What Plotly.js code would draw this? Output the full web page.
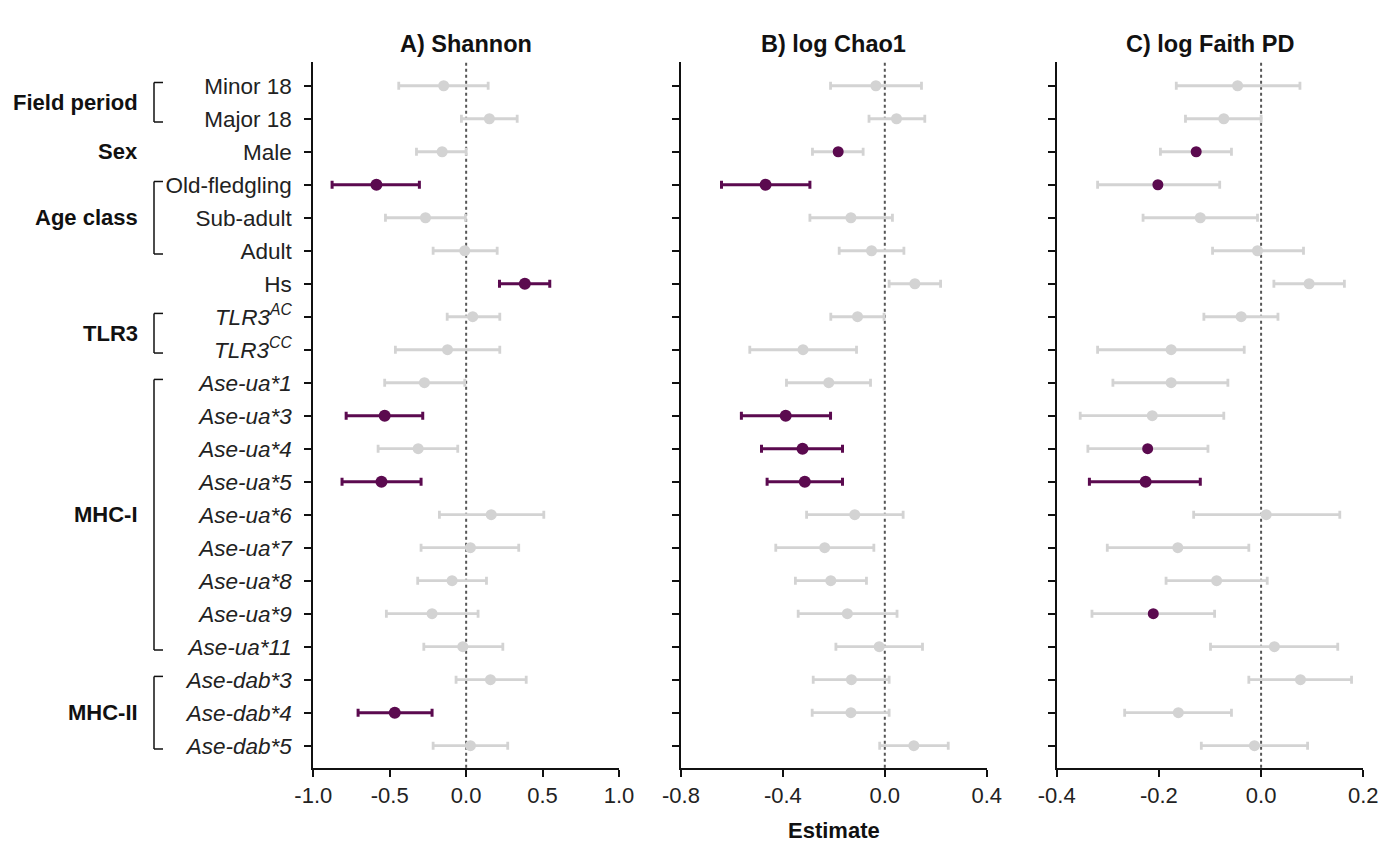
<!DOCTYPE html>
<html>
<head>
<meta charset="utf-8">
<script src="https://cdn.plot.ly/plotly-3.0.1.min.js"></script>
<style>html,body{margin:0;padding:0;background:#fff;}#chart{width:1392px;height:846px;}</style>
</head>
<body>
<div id="chart"></div>
<script>
// Row labels (top to bottom)
const rowLabels = ["Minor 18","Major 18","Male","Old-fledgling","Sub-adult","Adult","Hs",
  "<i>TLR3<sup>AC</sup></i>","<i>TLR3<sup>CC</sup></i>",
  "<i>Ase-ua*1</i>","<i>Ase-ua*3</i>","<i>Ase-ua*4</i>","<i>Ase-ua*5</i>","<i>Ase-ua*6</i>",
  "<i>Ase-ua*7</i>","<i>Ase-ua*8</i>","<i>Ase-ua*9</i>","<i>Ase-ua*11</i>",
  "<i>Ase-dab*3</i>","<i>Ase-dab*4</i>","<i>Ase-dab*5</i>"];

// Group labels and bracket extents (row indices)
const groupNames = ["Field period","Sex","Age class","TLR3","MHC-I","MHC-II"];
const groupFirst = [0,2,3,7,9,18];
const groupLast  = [1,2,5,8,17,20];
const groupBracket = [true,false,true,true,true,true];

// A) Shannon
const shannonEst = [-0.147,0.152,-0.157,-0.587,-0.266,-0.009,0.384,0.043,-0.122,-0.273,-0.533,-0.314,-0.554,0.164,0.028,-0.092,-0.223,-0.022,0.159,-0.467,0.028];
const shannonLo  = [-0.441,-0.031,-0.325,-0.877,-0.528,-0.216,0.218,-0.124,-0.463,-0.533,-0.785,-0.576,-0.812,-0.175,-0.295,-0.317,-0.522,-0.277,-0.066,-0.707,-0.216];
const shannonHi  = [0.144,0.334,0.0,-0.306,-0.005,0.203,0.547,0.220,0.220,-0.009,-0.284,-0.055,-0.295,0.508,0.344,0.133,0.078,0.240,0.393,-0.223,0.272];
const shannonSig = [0,0,0,2,0,0,2,0,0,0,2,0,2,0,0,0,0,0,0,2,0];

// B) log Chao1
const chaoEst = [-0.035,0.046,-0.183,-0.468,-0.133,-0.052,0.118,-0.107,-0.321,-0.220,-0.389,-0.323,-0.314,-0.118,-0.236,-0.212,-0.147,-0.022,-0.131,-0.133,0.114];
const chaoLo  = [-0.213,-0.062,-0.284,-0.641,-0.294,-0.179,0.017,-0.212,-0.530,-0.386,-0.563,-0.484,-0.462,-0.307,-0.428,-0.351,-0.340,-0.192,-0.281,-0.285,-0.020];
const chaoHi  = [0.144,0.157,-0.085,-0.294,0.030,0.075,0.219,-0.003,-0.111,-0.056,-0.213,-0.166,-0.166,0.072,-0.043,-0.072,0.048,0.148,0.017,0.017,0.249];
const chaoSig = [0,0,1,2,0,0,0,0,0,0,2,2,2,0,0,0,0,0,0,0,0];

// C) log Faith PD
const faithEst = [-0.046,-0.073,-0.127,-0.202,-0.119,-0.007,0.094,-0.039,-0.176,-0.176,-0.213,-0.222,-0.226,0.010,-0.163,-0.087,-0.211,0.026,0.077,-0.162,-0.013];
const faithLo  = [-0.166,-0.148,-0.197,-0.320,-0.231,-0.095,0.025,-0.112,-0.320,-0.290,-0.354,-0.339,-0.336,-0.132,-0.301,-0.186,-0.331,-0.099,-0.024,-0.267,-0.117];
const faithHi  = [0.076,0.0,-0.058,-0.081,-0.007,0.083,0.163,0.033,-0.033,-0.065,-0.073,-0.104,-0.119,0.154,-0.024,0.012,-0.091,0.150,0.177,-0.058,0.091];
const faithSig = [0,0,1,1,0,0,0,0,0,0,0,1,2,0,0,0,1,0,0,0,0];

const panelTitles = ["A) Shannon","B) log Chao1","C) log Faith PD"];
const xRanges = [[-1,1],[-0.8,0.4],[-0.4,0.2]];
const xTickVals = [[-1,-0.5,0,0.5,1],[-0.8,-0.4,0,0.4],[-0.4,-0.2,0,0.2]];
const xTickText = [["-1.0","-0.5","0.0","0.5","1.0"],["-0.8","-0.4","0.0","0.4"],["-0.4","-0.2","0.0","0.2"]];
const xAxisTitle = "Estimate";

const PURPLE = "#5b0a4f";
const GREY = "#d3d3d3";
const FONT = "Liberation Sans, Arial, sans-serif";

const panels = [
  {est: shannonEst, lo: shannonLo, hi: shannonHi, sig: shannonSig},
  {est: chaoEst, lo: chaoLo, hi: chaoHi, sig: chaoSig},
  {est: faithEst, lo: faithLo, hi: faithHi, sig: faithSig}
];

const traces = [];
panels.forEach((p, k) => {
  const xa = k === 0 ? "x" : "x" + (k + 1);
  const ya = k === 0 ? "y" : "y" + (k + 1);
  const gi = [], pi = [];
  p.est.forEach((v, i) => { (p.sig[i] === 2 ? pi : gi).push(i); });
  traces.push({
    type: "scatter", mode: "markers", xaxis: xa, yaxis: ya, hoverinfo: "skip",
    x: gi.map(i => p.est[i]), y: gi,
    error_x: {type: "data", symmetric: false,
      array: gi.map(i => p.hi[i] - p.est[i]), arrayminus: gi.map(i => p.est[i] - p.lo[i]),
      color: GREY, thickness: 2.8, width: 4},
    marker: {size: 11, color: gi.map(i => p.sig[i] === 1 ? PURPLE : GREY)}
  });
  traces.push({
    type: "scatter", mode: "markers", xaxis: xa, yaxis: ya, hoverinfo: "skip",
    x: pi.map(i => p.est[i]), y: pi,
    error_x: {type: "data", symmetric: false,
      array: pi.map(i => p.hi[i] - p.est[i]), arrayminus: pi.map(i => p.est[i] - p.lo[i]),
      color: PURPLE, thickness: 3, width: 4},
    marker: {size: 12, color: PURPLE}
  });
});

const W = 1392, H = 846;
const xDomains = [[313.3/W, 619/W],[681/W, 986.7/W],[1056.7/W, 1363.3/W]];
const yDomain = [1 - 767.7/H, 1 - 62/H];
const nRows = rowLabels.length;
const yRange = [nRows - 1 + 0.667, -0.72];

const layout = {
  width: W, height: H, showlegend: false,
  paper_bgcolor: "#fff", plot_bgcolor: "#fff",
  margin: {l: 0, r: 0, t: 0, b: 0},
  font: {family: FONT, size: 22, color: "#111"},
  shapes: [], annotations: []
};

for (let k = 0; k < 3; k++) {
  const sx = k === 0 ? "" : String(k + 1);
  layout["xaxis" + sx] = {
    domain: xDomains[k], range: xRanges[k], anchor: "y" + sx,
    tickmode: "array", tickvals: xTickVals[k], ticktext: xTickText[k],
    showline: true, linecolor: "#111", linewidth: 2,
    ticks: "outside", ticklen: 7, tickwidth: 2, tickcolor: "#111",
    showgrid: false, zeroline: false,
    tickfont: {family: FONT, size: 22, color: "#222"}
  };
  layout["yaxis" + sx] = {
    domain: yDomain, range: yRange, anchor: "x" + sx,
    tickmode: "array", tickvals: rowLabels.map((_, i) => i),
    ticktext: rowLabels, showticklabels: k === 0, ticklabelstandoff: 8,
    showline: true, linecolor: "#111", linewidth: 2,
    ticks: "outside", ticklen: 7, tickwidth: 2, tickcolor: "#111",
    showgrid: false, zeroline: false,
    tickfont: {family: FONT, size: 22.5, color: "#222"}
  };
  layout.shapes.push({
    type: "line", xref: "x" + sx, yref: "y" + sx + " domain",
    x0: 0, x1: 0, y0: 0, y1: 1, layer: "below",
    line: {color: "#555", width: 2, dash: "dot"}
  });
  layout.annotations.push({
    text: "<b>" + panelTitles[k] + "</b>", showarrow: false,
    xref: "x" + sx + " domain", yref: "paper", x: 0.5, y: 1 - 44/H,
    xanchor: "center", yanchor: "middle",
    font: {family: FONT, size: 23.5, color: "#111"}
  });
}

layout.annotations.push({
  text: "<b>" + xAxisTitle + "</b>", showarrow: false, xref: "x2 domain", yref: "paper",
  x: 0.5, y: 1 - 830/H, xanchor: "center", yanchor: "middle",
  font: {family: FONT, size: 22, color: "#111"}
});

groupNames.forEach((g, j) => {
  const mid = (groupFirst[j] + groupLast[j]) / 2;
  layout.annotations.push({
    text: "<b>" + g + "</b>", showarrow: false, xref: "paper", yref: "y",
    x: 140/W, y: mid, xanchor: "right", yanchor: "middle",
    font: {family: FONT, size: 22, color: "#111"}
  });
  if (groupBracket[j]) {
    const y0 = groupFirst[j] - 0.1, y1 = groupLast[j] + 0.1;
    const bx = 154/W, ex = 163/W;
    const ln = {color: "#111", width: 1.5};
    layout.shapes.push({type: "line", xref: "paper", yref: "y", x0: bx, x1: bx, y0: y0, y1: y1, line: ln});
    layout.shapes.push({type: "line", xref: "paper", yref: "y", x0: bx, x1: ex, y0: y0, y1: y0, line: ln});
    layout.shapes.push({type: "line", xref: "paper", yref: "y", x0: bx, x1: ex, y0: y1, y1: y1, line: ln});
  }
});

Plotly.newPlot("chart", traces, layout, {displayModeBar: false, staticPlot: true});
</script>
</body>
</html>
